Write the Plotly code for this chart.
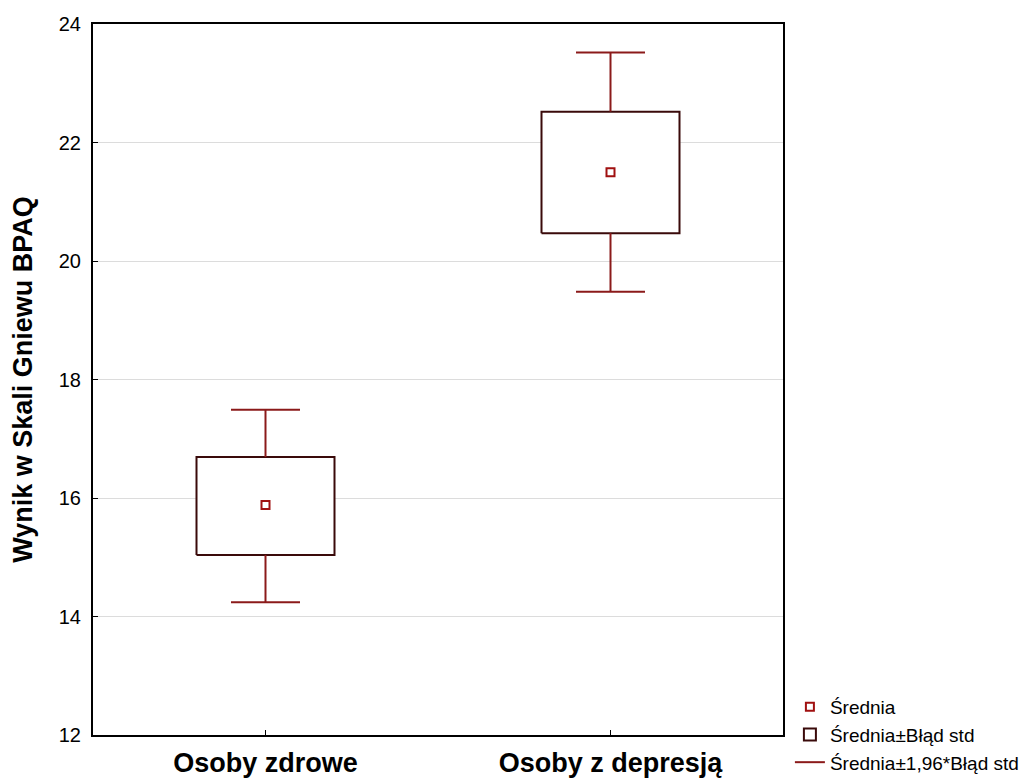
import plotly.graph_objects as go

categories = ["Osoby zdrowe", "Osoby z depresją"]
means = [15.88, 21.50]
se_low = [15.04, 20.47]
se_high = [16.69, 22.52]
ci_low = [14.24, 19.48]
ci_high = [17.49, 23.52]
y_ticks = [12, 14, 16, 18, 20, 22, 24]

xpos = [0.5, 1.5]
box_half = 0.2
cap_half = 0.1

whisk_col = "#8b1a1a"
box_col = "#3a0a0a"
mean_col = "#a01010"

fig = go.Figure()

# whiskers
wx, wy = [], []
for i, x in enumerate(xpos):
    wx += [x, x, None, x - cap_half, x + cap_half, None,
           x, x, None, x - cap_half, x + cap_half, None]
    wy += [se_high[i], ci_high[i], None, ci_high[i], ci_high[i], None,
           se_low[i], ci_low[i], None, ci_low[i], ci_low[i], None]

# boxes
bx, by = [], []
for i, x in enumerate(xpos):
    bx += [x - box_half, x + box_half, x + box_half, x - box_half, x - box_half, None]
    by += [se_low[i], se_low[i], se_high[i], se_high[i], se_low[i], None]

fig.add_trace(go.Scatter(x=bx, y=by, mode="lines", fill="toself", fillcolor="white",
                         line=dict(color=box_col, width=2), showlegend=False,
                         hoverinfo="skip"))
# legend-only entry for the box
fig.add_trace(go.Bar(x=[None], y=[None], marker=dict(color="white",
                     line=dict(color=box_col, width=2)),
                     name="Średnia±Błąd std", legendrank=2))
fig.add_trace(go.Scatter(x=wx, y=wy, mode="lines", line=dict(color=whisk_col, width=2),
                         name="Średnia±1,96*Błąd std", legendrank=3))
fig.add_trace(go.Scatter(x=xpos, y=means, mode="markers",
                         marker=dict(symbol="square-open", size=8, color=mean_col,
                                     line=dict(width=2, color=mean_col)),
                         name="Średnia", legendrank=1))

fig.update_layout(
    width=1030, height=780,
    margin=dict(l=93, r=247, t=24, b=45, autoexpand=False),
    paper_bgcolor="white", plot_bgcolor="white",
    font=dict(family="Liberation Sans, Arial", color="black", size=16),
    showlegend=True,
    legend=dict(x=1.01, xanchor="left", y=-0.066, yanchor="bottom",
                font=dict(size=19, color="black"), tracegroupgap=0,
                itemwidth=30, bgcolor="rgba(0,0,0,0)"),
)
fig.update_xaxes(range=[0, 2], tickmode="array", tickvals=xpos, ticktext=categories,
                 tickfont=dict(size=27, family="Liberation Sans, Arial", weight="bold"),
                 showline=True, linecolor="black", linewidth=2, mirror=True,
                 ticks="inside", ticklen=5, tickcolor="black", showgrid=False,
                 zeroline=False, automargin=False, ticklabelstandoff=3)
fig.update_yaxes(range=[12, 24], tickmode="array", tickvals=y_ticks,
                 tickfont=dict(size=20),
                 title=dict(text="Wynik w Skali Gniewu BPAQ",
                            font=dict(size=27, weight="bold"), standoff=18),
                 showline=True, linecolor="black", linewidth=2, mirror=True,
                 ticks="inside", ticklen=5, tickcolor="black", ticklabelstandoff=6,
                 showgrid=True, gridcolor="#dcdcdc", gridwidth=1, zeroline=False,
                 automargin=False)

fig.write_html("out.html", config={"displayModeBar": False},
               post_script="document.body.style.margin='0';document.body.style.overflow='hidden';")
